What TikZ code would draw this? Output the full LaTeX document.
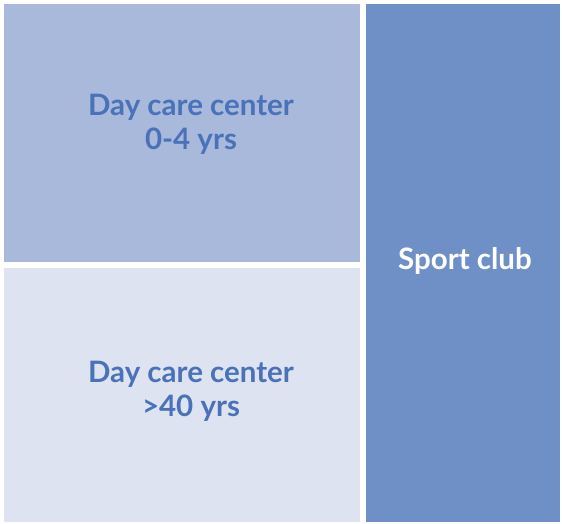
\documentclass[tikz,border=0pt]{standalone}
\usepackage{fontspec}
\setmainfont{Lato}
\definecolor{topc}{HTML}{A8B9DC}
\definecolor{botc}{HTML}{DDE3F0}
\definecolor{rightc}{HTML}{6F8FC7}
\definecolor{txtc}{HTML}{4A72B8}
\begin{document}
\begin{tikzpicture}[x=1pt,y=1pt,
  lbl/.style={font=\fontsize{29.5}{34}\selectfont\bfseries, align=center, inner sep=0pt}]
\useasboundingbox (0,0) rectangle (562,524);
\fill[white] (0,0) rectangle (562,524);
\fill[topc] (4,262) rectangle (360,520);
\fill[botc] (4,2) rectangle (360,256);
\fill[rightc] (366,2) rectangle (560,520);
\node[lbl, text=txtc] (a) at (191,400) {Day care center\\0-4 yrs};
\node[lbl, text=txtc] (b) at (191,133) {Day care center\\>40 yrs};
\node[lbl, text=white] (c) at (465,263) {Sport club};
\end{tikzpicture}
\end{document}
